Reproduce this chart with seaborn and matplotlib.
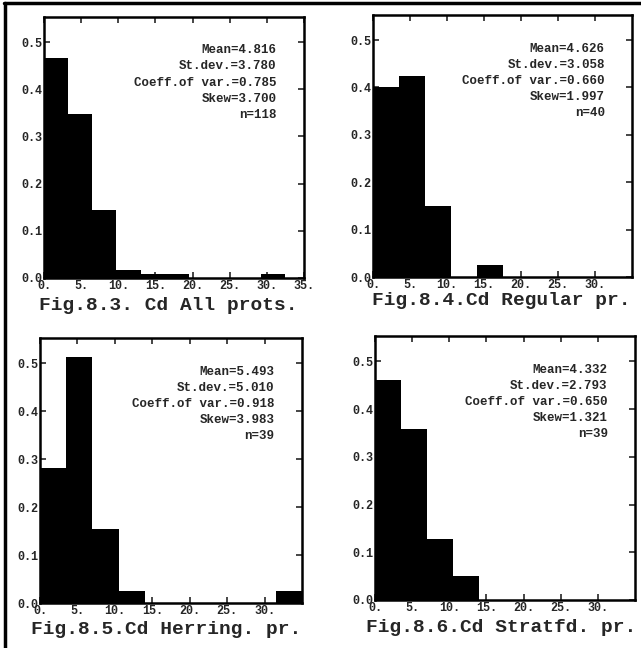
import numpy as np
import pandas as pd
import seaborn as sns
import matplotlib.pyplot as plt
from matplotlib.lines import Line2D

# relative frequency histograms of Cd, counts per bin
titles = ["Fig.8.3. Cd All prots.", "Fig.8.4.Cd Regular pr.",
          "Fig.8.5.Cd Herring. pr.", "Fig.8.6.Cd Stratfd. pr."]
bin_widths = [3.25, 3.5, 3.5, 3.5]
counts_all = [55, 41, 17, 2, 1, 1, 0, 0, 0, 1]
counts_regular = [16, 17, 6, 0, 1]
counts_herring = [11, 20, 6, 1, 0, 0, 0, 0, 0, 1]
counts_stratfd = [18, 14, 5, 2]
n_values = [118, 40, 39, 39]
stats = [
    "Mean=4.816\nSt.dev.=3.780\nCoeff.of var.=0.785\nSkew=3.700\nn=118",
    "Mean=4.626\nSt.dev.=3.058\nCoeff.of var.=0.660\nSkew=1.997\nn=40",
    "Mean=5.493\nSt.dev.=5.010\nCoeff.of var.=0.918\nSkew=3.983\nn=39",
    "Mean=4.332\nSt.dev.=2.793\nCoeff.of var.=0.650\nSkew=1.321\nn=39",
]
x_tick_sets = [[0, 5, 10, 15, 20, 25, 30, 35], [0, 5, 10, 15, 20, 25, 30],
               [0, 5, 10, 15, 20, 25, 30], [0, 5, 10, 15, 20, 25, 30]]
y_ticks = [0.0, 0.1, 0.2, 0.3, 0.4, 0.5]

sns.set_style("ticks")
plt.rcParams['font.family'] = ['Liberation Mono', 'DejaVu Sans Mono']

W, H = 641, 648
fig = plt.figure(figsize=(W / 100, H / 100), dpi=100)

# axes boxes in pixels: left, top, right, bottom
boxes = [(44, 17, 304, 278), (373, 15, 632, 277),
         (40, 338, 302, 603), (375, 336, 635, 600)]
title_pos = [(168, 305), (501, 300), (166, 630), (501, 628)]
all_counts = [counts_all, counts_regular, counts_herring, counts_stratfd]


def px_axes(box):
    l, t, r, b = box
    return fig.add_axes([l / W, 1 - b / H, (r - l) / W, (b - t) / H])


for i in range(4):
    ax = px_axes(boxes[i])
    bw = bin_widths[i]
    counts = np.array(all_counts[i], dtype=float)
    df = pd.DataFrame({'cd': bw * (np.arange(len(counts)) + 0.5),
                       'freq': counts / n_values[i]})
    sns.histplot(data=df, x='cd', weights='freq', binwidth=bw,
                 binrange=(0, bw * len(counts)), ax=ax,
                 color='black', alpha=1, edgecolor='black', linewidth=0)
    ax.set_xlim(0, 35)
    ax.set_ylim(0, 0.553)
    ax.set_ylabel('')
    ax.set_xlabel('')
    ticks = x_tick_sets[i]
    ax.set_xticks(ticks)
    ax.set_xticklabels([f"{t}." for t in ticks])
    ax.set_yticks(y_ticks)
    ax.set_yticklabels([f"{t:.1f}" for t in y_ticks])
    ax.tick_params(direction='in', length=4, width=1.2, top=True, right=True,
                   labelsize=8.5, pad=1.5)
    for lab in ax.get_xticklabels() + ax.get_yticklabels():
        lab.set_fontweight('bold')
    for sp in ax.spines.values():
        sp.set_linewidth(1.8)
        sp.set_color('black')
    ax.text(0.895, 0.895, stats[i], transform=ax.transAxes, ha='right',
            va='top', fontsize=9, fontweight='bold', linespacing=1.45)
    tx, ty = title_pos[i]
    fig.text(tx / W, 1 - ty / H, titles[i], ha='center', va='center',
             fontsize=14, fontweight='bold')

# outer frame (top and left edges)
fig.add_artist(Line2D([4 / W, 1], [1 - 3 / H, 1 - 3 / H], color='black',
                      lw=2.5, transform=fig.transFigure))
fig.add_artist(Line2D([5 / W, 5 / W], [0, 1 - 3 / H], color='black',
                      lw=2.5, transform=fig.transFigure))

fig.savefig('out.png', dpi=100)
